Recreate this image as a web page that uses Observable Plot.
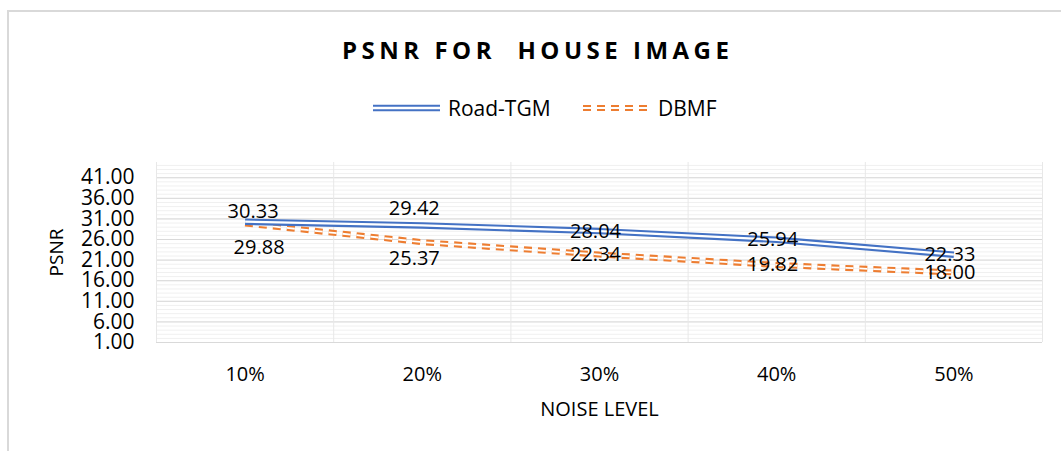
<!DOCTYPE html>
<html><head><meta charset="utf-8">
<script src="https://cdn.jsdelivr.net/npm/d3@7"></script>
<script src="https://cdn.jsdelivr.net/npm/@observablehq/plot@0.6"></script>
<style>
body{margin:0;background:#fff;width:1061px;height:451px;overflow:hidden;position:relative;font-family:"Open Sans",sans-serif;color:#000}
#frame{position:absolute;left:7px;top:10px;width:1100px;height:500px;border-top:2px solid #d9d9d9;border-left:2px solid #d9d9d9;}
#title{position:absolute;left:342px;top:38px;font-weight:700;font-size:24px;line-height:24px;letter-spacing:4.5px;white-space:pre;}
.lg{position:absolute;font-size:21px;line-height:21px;top:98px;white-space:pre}
.sw{position:absolute;top:101px}
#chart{position:absolute;left:0;top:140px}
</style></head>
<body>
<div id="frame"></div>
<div id="title">PSNR FOR  HOUSE IMAGE</div>
<svg class="sw" style="left:373px" width="67" height="14"><line x1="0" x2="67" y1="7" y2="7" stroke="#4472C4" stroke-width="6.5"/><line x1="0" x2="67" y1="7" y2="7" stroke="#fff" stroke-width="2.3"/></svg>
<div class="lg" style="left:448px">Road-TGM</div>
<svg class="sw" style="left:583px" width="67" height="14"><line x1="0" x2="67" y1="7" y2="7" stroke="#ED7D31" stroke-width="6" stroke-dasharray="8,6"/><line x1="0" x2="67" y1="7" y2="7" stroke="#fff" stroke-width="1.8"/></svg>
<div class="lg" style="left:658px">DBMF</div>
<div id="chart"></div>
<script>
const categories = ["10%", "20%", "30%", "40%", "50%"];
const roadTGM = [30.33, 29.42, 28.04, 25.94, 22.33];
const dbmf = [29.88, 25.37, 22.34, 19.82, 18.00];
const yTicks = [1, 6, 11, 16, 21, 26, 31, 36, 41];

const table = categories.map((c, i) => ({i, c, road: roadTGM[i], dbmf: dbmf[i]}));
const orange = "#ED7D31", blue = "#4472C4";

function labels(key, nudges) {
  return nudges.map(([idx, dx, dy]) => Plot.text(table, {
    filter: (d) => idx.includes(d.i), x: "i", y: key,
    text: (d) => d[key].toFixed(2), dx, dy, fontSize: 20, fill: "#000"
  }));
}

const chart = Plot.plot({
  width: 1061, height: 311,
  marginLeft: 156, marginRight: 19, marginTop: 22, marginBottom: 109,
  style: {fontFamily: "Open Sans", background: "transparent", color: "#000"},
  x: {domain: [-0.5, 4.5]},
  y: {domain: [1, 44.7]},
  marks: [
    Plot.ruleY(d3.range(1, 45), {stroke: "#f0f0f0", strokeWidth: 1}),
    Plot.ruleY(yTicks, {stroke: "#d9d9d9", strokeWidth: 1}),
    Plot.ruleX(d3.range(-0.5, 5, 1), {stroke: "#e8e8e8", strokeWidth: 1}),
    Plot.axisY({ticks: yTicks, tickFormat: (d) => d.toFixed(2), tickSize: 0, tickPadding: 22, fontSize: 21, label: null}),
    Plot.axisX({ticks: [0, 1, 2, 3, 4], tickFormat: (i) => categories[i], tickSize: 0, tickPadding: 24, fontSize: 20, label: null}),
    Plot.line(table, {x: "i", y: "dbmf", stroke: orange, strokeWidth: 6, strokeDasharray: "8,6", strokeLinecap: "butt", strokeLinejoin: "miter"}),
    Plot.line(table, {x: "i", y: "dbmf", stroke: "#fff", strokeWidth: 1.8, strokeDasharray: "8,6", strokeLinecap: "butt", strokeLinejoin: "miter"}),
    Plot.line(table, {x: "i", y: "road", stroke: blue, strokeWidth: 6.5, strokeLinecap: "butt", strokeLinejoin: "miter"}),
    Plot.line(table, {x: "i", y: "road", stroke: "#fff", strokeWidth: 2.3, strokeLinecap: "butt", strokeLinejoin: "miter"}),
    ...labels("road", [[[0], 8, -10], [[1], -8, -17], [[2, 3, 4], -4, 0]]),
    ...labels("dbmf", [[[0], 14, 24], [[1], -8, 16], [[2, 3, 4], -4, 0]]),
    Plot.text(["NOISE LEVEL"], {text: (d) => d, frameAnchor: "bottom", textAnchor: "middle", lineAnchor: "middle", dy: 67, fontSize: 20, fill: "#000"}),
    Plot.text(["PSNR"], {text: (d) => d, frameAnchor: "left", textAnchor: "middle", lineAnchor: "middle", rotate: -90, dx: -100, fontSize: 19, fill: "#000"})
  ]
});
document.getElementById("chart").appendChild(chart);
</script>
</body></html>
